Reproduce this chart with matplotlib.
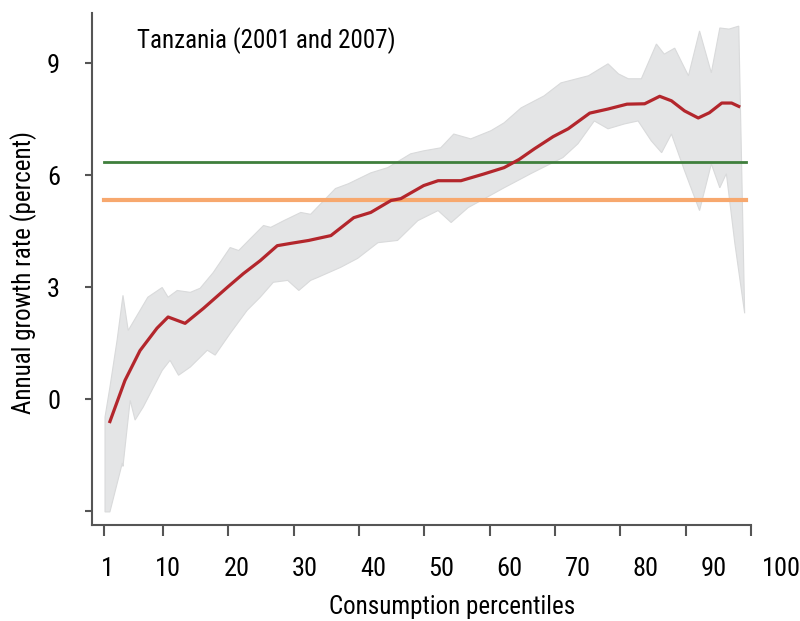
import numpy as np
import matplotlib.pyplot as plt
from matplotlib.transforms import ScaledTranslation

plt.rcParams["font.family"] = ["Roboto Condensed", "DejaVu Sans"]

# Growth incidence curve
pct_mean = [1.9, 4.2, 6.5, 9.1, 10.8, 13.4, 16.2, 19.9, 22.3, 24.9, 27.5, 29.5,
            32.3, 35.7, 39.2, 41.8, 44.9, 46.4, 49.9, 52.1, 55.6, 59.1, 62.2,
            64.5, 66.8, 69.7, 72.0, 75.3, 78.1, 81.0, 83.7, 86.0, 87.8, 89.8,
            91.9, 93.6, 95.5, 97.0, 98.1]
growth_mean = [-0.6, 0.5, 1.3, 1.9, 2.2, 2.03, 2.43, 3.0, 3.36, 3.71, 4.11, 4.17,
               4.25, 4.38, 4.86, 5.0, 5.32, 5.37, 5.72, 5.85, 5.85, 6.03, 6.2,
               6.42, 6.7, 7.03, 7.24, 7.66, 7.77, 7.9, 7.91, 8.11, 7.99, 7.72,
               7.53, 7.67, 7.93, 7.93, 7.84]

# Upper edge of the confidence band
pct_upper = [1.15, 1.9, 3.0, 3.9, 4.7, 7.7, 9.9, 10.8, 12.2, 14.2, 15.7, 17.7,
             20.3, 21.6, 23.4, 25.4, 26.5, 28.5, 31.1, 32.6, 36.4, 38.4, 41.8,
             44.4, 47.9, 49.9, 52.5, 54.5, 57.1, 60.2, 62.2, 64.8, 68.3, 70.9,
             75.1, 78.1, 79.7, 81.2, 83.2, 85.5, 86.7, 88.3, 90.4, 92.1, 93.9,
             95.2, 96.6, 98.1, 99.0]
growth_upper = [-0.48, 0.32, 1.58, 2.78, 1.84, 2.73, 2.99, 2.73, 2.91, 2.86, 2.97,
                3.39, 4.06, 3.98, 4.3, 4.65, 4.6, 4.78, 5.0, 4.95, 5.64, 5.77,
                6.06, 6.2, 6.57, 6.65, 6.73, 7.1, 6.97, 7.19, 7.4, 7.8, 8.12,
                8.47, 8.66, 8.98, 8.71, 8.58, 8.58, 9.51, 9.24, 9.4, 8.66, 9.86,
                8.74, 9.94, 9.91, 9.99, 2.3]

# Lower edge of the confidence band
pct_lower = [1.15, 1.9, 3.8, 3.9, 5.0, 5.75, 7.0, 9.9, 11.1, 12.4, 14.2, 16.8,
             18.0, 20.3, 22.9, 24.9, 26.9, 29.1, 30.8, 32.6, 33.7, 37.2, 39.8,
             42.9, 45.9, 49.0, 52.1, 54.1, 56.7, 58.7, 62.2, 64.8, 66.3, 71.2,
             73.5, 76.0, 78.1, 80.6, 82.7, 84.7, 86.3, 87.8, 89.8, 92.1, 93.9,
             95.2, 96.2, 97.5, 99.0]
growth_lower = [-3.02, -3.02, -1.71, -1.8, -0.03, -0.56, -0.21, 0.77, 1.04, 0.64,
                0.86, 1.31, 1.18, 1.76, 2.38, 2.73, 3.13, 3.18, 2.91, 3.18, 3.26,
                3.53, 3.77, 4.19, 4.25, 4.78, 5.05, 4.73, 5.13, 5.32, 5.66, 5.9,
                6.04, 6.47, 6.84, 7.45, 7.24, 7.37, 7.45, 6.92, 6.6, 7.1, 6.12,
                5.05, 6.3, 5.66, 6.04, 4.17, 2.3]

growth_mean_overall = 6.36   # green line
growth_in_mean = 5.34        # orange line
line_span = [1, 99.2]

x_ticks = [1, 10, 20, 30, 40, 50, 60, 70, 80, 90, 100]
y_ticks = [-3, 0, 3, 6, 9]
y_tick_labels = ["", "0", "3", "6", "9"]

fig = plt.figure(figsize=(8, 6.21), dpi=100)
ax = fig.add_axes([0.115, 0.1546, 0.824, 0.8244])

# band as one polygon: upper edge then lower edge reversed
band_x = np.concatenate([pct_upper, pct_lower[::-1]])
band_y = np.concatenate([growth_upper, growth_lower[::-1]])
ax.fill(band_x, band_y, facecolor="#e4e5e6", edgecolor="#d9dadb", lw=0.8, zorder=1)

ax.plot(line_span, [growth_mean_overall] * 2, color="#3f7f3c", lw=2, zorder=2)
ax.plot(line_span, [growth_in_mean] * 2, color="#f7a86e", lw=3, zorder=2)
ax.plot(pct_mean, growth_mean, color="#b3262c", lw=2.3, zorder=3)

ax.set_xlim(-0.84, 100)
ax.set_ylim(-3.37, 10.34)

for side in ["top", "right"]:
    ax.spines[side].set_visible(False)
for side in ["left", "bottom"]:
    ax.spines[side].set_color("#555555")
    ax.spines[side].set_linewidth(1.5)

ax.set_yticks(y_ticks)
ax.set_yticklabels(y_tick_labels)
ax.tick_params(axis="y", length=5, width=1.5, color="#555555", pad=18,
               labelsize=19)

ax.set_xticks(x_ticks)
ax.tick_params(axis="x", length=8, width=1.5, color="#555555", pad=15,
               labelsize=19)
# the original spreads its labels a little wider than its tick marks
for v, lab in zip(x_ticks, ax.get_xticklabels()):
    shift = (3 + 0.28 * (v - 1)) / 100
    lab.set_transform(lab.get_transform() + ScaledTranslation(shift, 0, fig.dpi_scale_trans))

ax.set_ylabel("Annual growth rate (percent)", fontsize=18)
ax.yaxis.set_label_coords(-0.084, 0.494)
fig.text(0.565, 1 - 607 / 621, "Consumption percentiles", fontsize=18,
         ha="center", va="center")

ax.text(0.068, 0.947, "Tanzania (2001 and 2007)", transform=ax.transAxes,
        fontsize=18, ha="left", va="center")

fig.savefig("out.png", dpi=100)
